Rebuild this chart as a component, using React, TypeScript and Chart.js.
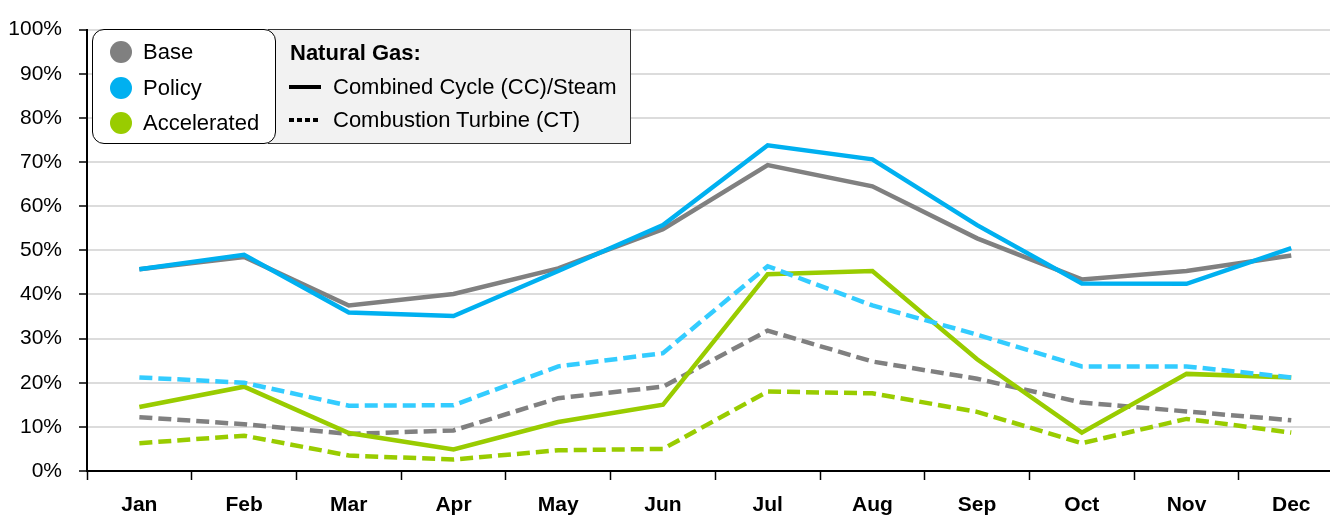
import React, { useEffect, useRef } from "react";
import { Chart, registerables } from "chart.js";

Chart.register(...registerables);

const months = ["Jan", "Feb", "Mar", "Apr", "May", "Jun", "Jul", "Aug", "Sep", "Oct", "Nov", "Dec"];
const baseCC = [45.7, 48.5, 37.5, 40.1, 45.9, 54.8, 69.3, 64.5, 52.7, 43.4, 45.3, 48.8];
const policyCC = [45.7, 49.0, 35.9, 35.1, 45.3, 55.7, 73.8, 70.6, 55.7, 42.5, 42.4, 50.5];
const accelCC = [14.5, 19.1, 8.6, 4.9, 11.1, 15.0, 44.6, 45.3, 25.3, 8.7, 22.0, 21.2];
const baseCT = [12.2, 10.6, 8.4, 9.2, 16.5, 19.1, 31.8, 24.8, 20.9, 15.5, 13.5, 11.5];
const policyCT = [21.2, 20.0, 14.8, 14.9, 23.7, 26.7, 46.4, 37.5, 30.9, 23.7, 23.7, 21.2];
const accelCT = [6.3, 8.0, 3.5, 2.6, 4.7, 5.0, 18.0, 17.6, 13.4, 6.3, 11.8, 8.7];
const yTicks = [0, 10, 20, 30, 40, 50, 60, 70, 80, 90, 100];

const scenarioNames = ["Base", "Policy", "Accelerated"];
const scenarioColors = ["#808080", "#00b0f0", "#99cc00"];
const ctColors = ["#808080", "#33ccff", "#99cc00"];

const FONT = "'Liberation Sans', Arial, sans-serif";

const toPts = (arr: number[]) => arr.map((v, i) => ({ x: i, y: v }));

export default function App() {
  const ref = useRef<HTMLCanvasElement | null>(null);

  useEffect(() => {
    document.body.style.margin = "0";
    const canvas = ref.current;
    if (!canvas) return;
    const solid = (label: string, data: number[], color: string) => ({
      label,
      data: toPts(data),
      borderColor: color,
      backgroundColor: color,
      borderWidth: 4.5,
      pointRadius: 0,
      tension: 0,
      fill: false,
    });
    const dashed = (label: string, data: number[], color: string) => ({
      ...solid(label, data, color),
      borderDash: [13, 6],
    });
    const chart = new Chart(canvas, {
      type: "line",
      data: {
        datasets: [
          dashed("Policy CT", policyCT, ctColors[1]),
          solid("Policy CC", policyCC, scenarioColors[1]),
          solid("Base CC", baseCC, scenarioColors[0]),
          solid("Accelerated CC", accelCC, scenarioColors[2]),
          dashed("Base CT", baseCT, ctColors[0]),
          dashed("Accelerated CT", accelCT, ctColors[2]),
        ],
      },
      options: {
        animation: false,
        responsive: false,
        maintainAspectRatio: false,
        layout: { padding: { top: 20, right: 0, left: 0, bottom: 0 } },
        plugins: { legend: { display: false }, tooltip: { enabled: false } },
        scales: {
          x: {
            type: "linear",
            min: -0.5,
            max: 11.37,
            afterBuildTicks: (scale: any) => {
              const t: any[] = [];
              for (let v = -0.5; v <= 11.37; v += 0.5) t.push({ value: v });
              scale.ticks = t;
            },
            afterFit: (scale: any) => {
              scale.height = 50;
            },
            grid: {
              drawOnChartArea: false,
              drawTicks: true,
              tickLength: 9,
              tickWidth: 1.5,
              tickColor: (ctx: any) =>
                ctx.tick && Math.abs(ctx.tick.value % 1) === 0.5 ? "#000" : "rgba(0,0,0,0)",
            },
            border: { display: true, color: "#000", width: 2 },
            ticks: {
              autoSkip: false,
              maxRotation: 0,
              padding: 13,
              color: "#000",
              font: { family: FONT, size: 21, weight: "bold" },
              callback: (v: any) => {
                const n = Number(v);
                return Number.isInteger(n) && n >= 0 && n < months.length ? months[n] : "";
              },
            },
          },
          y: {
            min: 0,
            max: 100,
            afterBuildTicks: (scale: any) => {
              scale.ticks = yTicks.map((v) => ({ value: v }));
            },
            afterFit: (scale: any) => {
              scale.width = 87;
            },
            grid: {
              color: "#dcdcdc",
              lineWidth: 2,
              tickColor: "#000",
              tickLength: 8,
              tickWidth: 1.5,
            },
            border: { display: true, color: "#000", width: 2 },
            ticks: {
              padding: 17,
              color: "#000",
              font: { family: FONT, size: 21 },
              callback: (v: any) => `${v}%`,
            },
          },
        },
      },
    } as any);
    return () => chart.destroy();
  }, []);

  const textStyle: React.CSSProperties = {
    position: "absolute",
    fontFamily: FONT,
    fontSize: 22,
    lineHeight: "28px",
    height: 28,
    color: "#000",
    whiteSpace: "nowrap",
  };
  const rowsY = [52, 88, 123];

  return (
    <div style={{ position: "relative", width: 1330, height: 521, overflow: "hidden" }}>
      <canvas ref={ref} width={1330} height={521} style={{ display: "block", width: 1330, height: 521 }} />
      {/* Right legend box */}
      <div
        style={{
          position: "absolute",
          left: 268,
          top: 29,
          width: 363,
          height: 115,
          boxSizing: "border-box",
          background: "#f2f2f2",
          border: "1.5px solid #333",
        }}
      />
      <div style={{ ...textStyle, left: 290, top: 53 - 14, fontWeight: "bold" }}>Natural Gas:</div>
      <div style={{ position: "absolute", left: 289, top: 85, width: 32, height: 4, background: "#000" }} />
      <div style={{ ...textStyle, left: 333, top: 87 - 14 }}>Combined Cycle (CC)/Steam</div>
      {[0, 1, 2, 3].map((i) => (
        <div
          key={i}
          style={{ position: "absolute", left: 289 + i * 8, top: 118, width: 5, height: 4, background: "#000" }}
        />
      ))}
      <div style={{ ...textStyle, left: 333, top: 120 - 14 }}>Combustion Turbine (CT)</div>
      {/* Left legend box */}
      <div
        style={{
          position: "absolute",
          left: 92,
          top: 29,
          width: 184,
          height: 115,
          boxSizing: "border-box",
          background: "#fff",
          border: "1.5px solid #000",
          borderRadius: 12,
        }}
      />
      {scenarioNames.map((name, i) => (
        <React.Fragment key={name}>
          <div
            style={{
              position: "absolute",
              left: 110,
              top: rowsY[i] - 11,
              width: 22,
              height: 22,
              borderRadius: "50%",
              background: scenarioColors[i],
            }}
          />
          <div style={{ ...textStyle, left: 143, top: rowsY[i] - 14 }}>{name}</div>
        </React.Fragment>
      ))}
    </div>
  );
}
